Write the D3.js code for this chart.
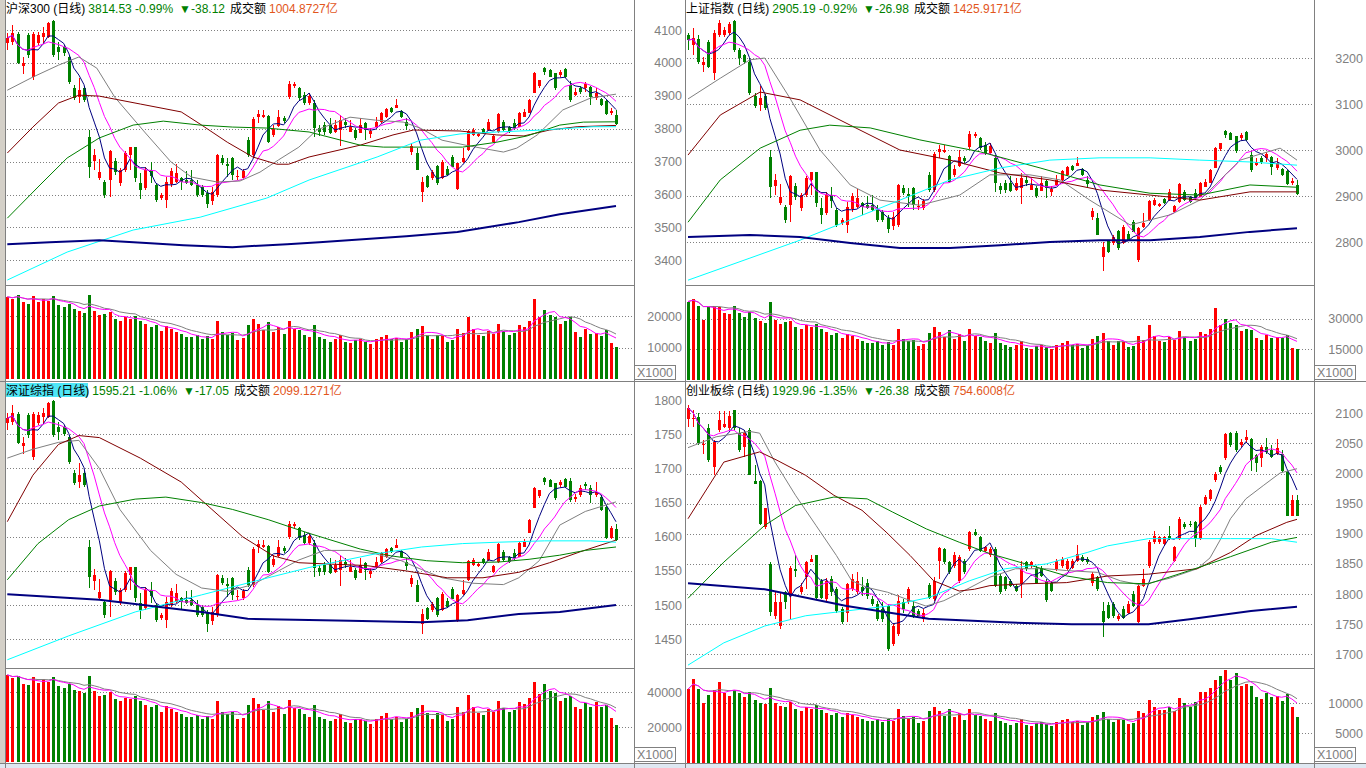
<!DOCTYPE html>
<html>
<head>
<meta charset="utf-8">
<script src="https://cdnjs.cloudflare.com/ajax/libs/d3/7.8.5/d3.min.js"></script>
<style>
  body { margin: 0; background: #fff; }
  svg { display: block; }
</style>
</head>
<body>
<svg id="chart" width="1366" height="768"></svg>
<script>
// ---- data: daily candles [open, high, low, close] ----
var hs300K = [
[4060,4091,4039,4076],[4063,4115,4054,4091],[4088,4094,3996,4000],[3990,4018,3966,4000],[4085,4091,4015,4024],
[3957,4094,3948,4088],[4060,4094,4054,4085],[4079,4109,4060,4091],[4079,4124,4076,4121],[4127,4130,4018,4024],
[4048,4063,4009,4033],[4048,4054,4021,4030],[4018,4024,3936,3942],[3924,3933,3887,3893],[3896,3954,3878,3917],
[3924,3930,3881,3887],[3775,3796,3650,3683],[3702,3738,3674,3720],[3650,3708,3644,3668],[3638,3644,3589,3598],
[3644,3735,3592,3732],[3702,3711,3659,3668],[3635,3680,3626,3674],[3674,3732,3668,3726],[3720,3744,3674,3744],
[3744,3744,3638,3650],[3635,3665,3586,3613],[3620,3683,3613,3674],[3674,3699,3635,3656],[3629,3635,3577,3583],
[3589,3604,3583,3598],[3583,3653,3559,3638],[3632,3680,3623,3671],[3638,3692,3635,3665],[3650,3653,3613,3638],
[3644,3671,3632,3635],[3644,3674,3626,3629],[3629,3644,3592,3598],[3623,3629,3592,3598],[3604,3613,3559,3571],
[3580,3623,3568,3607],[3598,3723,3592,3720],[3711,3720,3689,3696],[3692,3711,3653,3686],[3711,3714,3644,3659],
[3653,3674,3644,3656],[3650,3677,3644,3671],[3765,3775,3714,3720],[3720,3835,3714,3829],[3835,3857,3817,3844],
[3835,3857,3832,3841],[3838,3841,3756,3759],[3781,3811,3775,3799],[3808,3857,3805,3835],[3832,3838,3817,3823],
[3896,3945,3890,3936],[3930,3942,3924,3936],[3924,3927,3887,3893],[3902,3911,3872,3878],[3878,3908,3872,3899],
[3878,3887,3775,3802],[3802,3811,3778,3790],[3811,3820,3781,3790],[3811,3832,3784,3787],[3790,3826,3787,3811],
[3796,3841,3747,3826],[3820,3832,3802,3811],[3790,3826,3790,3805],[3796,3802,3765,3772],[3787,3832,3787,3811],
[3817,3820,3765,3796],[3784,3802,3772,3793],[3805,3835,3802,3820],[3820,3851,3817,3848],[3835,3863,3832,3860],
[3863,3866,3848,3851],[3863,3890,3863,3872],[3854,3857,3832,3835],[3820,3832,3796,3808],[3729,3756,3720,3747],
[3726,3741,3674,3674],[3607,3653,3577,3638],[3656,3659,3620,3623],[3650,3674,3644,3668],[3686,3689,3629,3635],
[3650,3705,3647,3699],[3677,3686,3656,3659],[3714,3720,3683,3683],[3616,3696,3613,3696],[3699,3741,3696,3711],
[3735,3796,3732,3793],[3781,3802,3778,3796],[3778,3787,3775,3784],[3799,3802,3784,3787],[3796,3829,3793,3820],
[3759,3781,3756,3778],[3790,3848,3787,3844],[3820,3826,3793,3796],[3805,3808,3787,3790],[3817,3829,3796,3802],
[3805,3851,3805,3848],[3835,3860,3835,3851],[3848,3890,3848,3887],[3908,3972,3908,3969],[3930,3948,3924,3948],
[3984,3987,3963,3972],[3978,3981,3957,3957],[3969,3969,3917,3924],[3963,3978,3957,3972],[3981,3984,3954,3957],
[3933,3945,3881,3887],[3902,3924,3899,3911],[3924,3930,3905,3911],[3924,3942,3911,3936],[3927,3930,3872,3896],
[3893,3924,3887,3908],[3890,3893,3869,3872],[3884,3887,3841,3844],[3848,3863,3841,3852.65],[3841,3857,3812,3814.53]
];
var shK = [
[3250,3254,3217,3239],[3228,3265,3206,3243],[3241,3250,3187,3191],[3185,3202,3169,3191],[3235,3239,3178,3180],
[3167,3261,3152,3254],[3250,3283,3246,3276],[3250,3267,3246,3261],[3254,3278,3250,3274],[3280,3283,3213,3217],
[3217,3222,3185,3200],[3206,3209,3187,3191],[3191,3200,3120,3124],[3117,3124,3091,3096],[3098,3139,3085,3113],
[3117,3122,3087,3091],[2985,3000,2896,2920],[2922,2948,2902,2935],[2885,2926,2880,2898],[2876,2880,2841,2848],
[2880,2946,2843,2943],[2922,2928,2891,2898],[2874,2906,2867,2902],[2902,2943,2898,2939],[2935,2952,2902,2952],
[2952,2952,2876,2885],[2874,2896,2839,2859],[2863,2909,2859,2902],[2902,2920,2874,2889],[2870,2874,2833,2837],
[2841,2852,2837,2848],[2837,2887,2820,2876],[2872,2906,2865,2900],[2876,2915,2874,2896],[2885,2887,2859,2876],
[2880,2900,2872,2874],[2880,2902,2867,2870],[2870,2880,2843,2848],[2865,2870,2843,2848],[2852,2859,2820,2828],
[2835,2865,2826,2854],[2837,2926,2833,2924],[2917,2924,2902,2906],[2904,2917,2876,2900],[2917,2920,2870,2880],
[2876,2891,2870,2878],[2874,2893,2870,2889],[2946,2952,2909,2913],[2913,2996,2909,2991],[2996,3011,2983,3002],
[2996,3011,2993,3000],[2987,2989,2928,2930],[2946,2967,2941,2959],[2965,3000,2963,2985],[2983,2987,2972,2976],
[3006,3041,3002,3035],[3030,3039,3026,3035],[3026,3028,3000,3004],[3011,3017,2989,2993],[2993,3015,2989,3009],
[2983,2989,2909,2928],[2922,2928,2904,2913],[2928,2935,2906,2913],[2928,2943,2909,2911],[2913,2939,2911,2928],
[2917,2950,2883,2939],[2935,2943,2922,2928],[2913,2939,2913,2924],[2917,2922,2896,2900],[2911,2943,2911,2928],
[2933,2935,2896,2917],[2909,2922,2900,2915],[2924,2946,2922,2935],[2935,2956,2933,2954],[2946,2965,2943,2963],
[2965,2967,2954,2956],[2965,2985,2965,2972],[2959,2961,2943,2946],[2935,2943,2917,2926],[2854,2874,2848,2867],
[2852,2863,2815,2815],[2767,2800,2736,2789],[2802,2804,2776,2778],[2798,2815,2793,2811],[2824,2826,2783,2787],
[2798,2837,2796,2833],[2817,2824,2802,2804],[2843,2848,2822,2822],[2760,2833,2757,2830],[2833,2863,2830,2841],
[2848,2891,2846,2889],[2880,2896,2878,2891],[2878,2885,2876,2883],[2893,2896,2883,2885],[2891,2915,2889,2909],
[2865,2880,2863,2878],[2887,2928,2885,2926],[2909,2913,2889,2891],[2898,2900,2885,2887],[2906,2915,2891,2896],
[2898,2930,2898,2928],[2920,2937,2920,2930],[2928,2959,2928,2956],[2961,3006,2961,3004],[3002,3015,2998,3015],
[3041,3043,3026,3033],[3037,3039,3022,3022],[3030,3030,2993,2998],[3026,3037,3022,3033],[3039,3041,3020,3022],
[2989,2998,2952,2956],[2967,2983,2965,2974],[2983,2987,2970,2974],[2983,2996,2974,2991],[2985,2987,2946,2963],
[2961,2983,2956,2972],[2959,2961,2943,2946],[2954,2956,2924,2926],[2928,2939,2924,2932.17],[2924,2935,2902,2905.19]
];
var szK = [
[1766,1781,1756,1773],[1768,1792,1763,1781],[1779,1782,1735,1737],[1732,1746,1721,1737],[1778,1781,1744,1749],
[1716,1782,1712,1779],[1766,1782,1763,1778],[1775,1789,1766,1781],[1775,1797,1773,1795],[1798,1800,1746,1749],
[1760,1768,1741,1753],[1760,1763,1747,1751],[1746,1749,1706,1709],[1693,1698,1676,1679],[1680,1708,1671,1690],
[1693,1696,1673,1676],[1585,1595,1525,1541],[1535,1553,1522,1544],[1510,1538,1508,1519],[1505,1508,1481,1486],
[1508,1551,1483,1550],[1535,1540,1515,1519],[1503,1525,1500,1522],[1522,1550,1519,1547],[1544,1556,1522,1556],
[1556,1556,1505,1510],[1503,1518,1480,1493],[1496,1527,1493,1522],[1522,1534,1503,1513],[1500,1503,1475,1478],
[1481,1489,1478,1486],[1478,1512,1467,1505],[1502,1525,1497,1521],[1505,1531,1503,1518],[1510,1512,1493,1505],
[1508,1521,1502,1503],[1508,1522,1499,1500],[1500,1508,1483,1486],[1497,1500,1483,1486],[1489,1493,1460,1472],
[1477,1497,1471,1490],[1486,1546,1483,1544],[1540,1544,1529,1532],[1531,1540,1512,1528],[1540,1541,1508,1515],
[1512,1522,1508,1513],[1510,1524,1508,1521],[1551,1556,1527,1529],[1529,1585,1527,1582],[1585,1595,1576,1589],
[1585,1595,1584,1588],[1587,1588,1547,1549],[1559,1573,1556,1567],[1572,1595,1570,1585],[1584,1587,1576,1579],
[1600,1623,1597,1619],[1616,1622,1613,1619],[1613,1614,1595,1598],[1603,1607,1588,1591],[1591,1605,1588,1601],
[1591,1595,1541,1554],[1554,1559,1543,1549],[1559,1563,1544,1549],[1559,1569,1546,1547],[1549,1566,1547,1559],
[1551,1573,1528,1566],[1563,1569,1554,1559],[1549,1566,1549,1556],[1551,1554,1537,1540],[1547,1569,1547,1559],
[1562,1563,1537,1551],[1546,1554,1540,1550],[1556,1570,1554,1563],[1563,1578,1562,1576],[1570,1584,1569,1582],
[1584,1585,1576,1578],[1584,1597,1584,1588],[1579,1581,1569,1570],[1563,1569,1551,1557],[1531,1544,1527,1540],
[1529,1537,1505,1505],[1472,1494,1458,1487],[1496,1497,1478,1480],[1493,1505,1490,1502],[1510,1512,1483,1486],
[1493,1519,1491,1516],[1506,1510,1496,1497],[1524,1527,1509,1509],[1477,1516,1475,1515],[1516,1537,1515,1522],
[1537,1566,1535,1565],[1559,1569,1557,1566],[1557,1562,1556,1560],[1567,1569,1560,1562],[1566,1582,1565,1578],
[1549,1559,1547,1557],[1563,1591,1562,1589],[1578,1581,1565,1566],[1570,1572,1562,1563],[1576,1582,1566,1569],
[1570,1592,1570,1591],[1585,1597,1585,1592],[1606,1626,1606,1625],[1642,1673,1642,1671],[1660,1668,1657,1668],
[1686,1687,1676,1680],[1683,1684,1673,1673],[1679,1679,1654,1657],[1676,1683,1673,1680],[1684,1686,1671,1673],
[1682,1686,1651,1654],[1655,1663,1651,1658],[1661,1676,1658,1671],[1677,1680,1668,1674],[1671,1676,1649,1661],
[1661,1680,1658,1665],[1658,1661,1638,1639],[1644,1646,1597,1598],[1598,1616,1597,1612.26],[1612,1619,1594,1595.21]
];
var cybK = [
[2090,2114,2078,2109],[2090,2105,2078,2093],[2094,2100,2047,2050],[2047,2055,2033,2049],[2075,2083,2019,2022],
[2011,2055,1997,2053],[2072,2104,2069,2089],[2078,2103,2075,2082],[2075,2103,2072,2096],[2105,2106,2072,2076],
[2067,2075,2036,2039],[2044,2072,2028,2067],[2072,2075,1997,1998],[1987,2014,1983,1983],[1987,1989,1915,1916],
[1911,1943,1908,1942],[1850,1853,1764,1770],[1764,1803,1758,1787],[1747,1803,1742,1787],[1803,1805,1775,1786],
[1797,1846,1758,1844],[1842,1864,1828,1839],[1803,1819,1800,1811],[1828,1855,1808,1853],[1854,1864,1853,1859],
[1865,1865,1792,1793],[1822,1825,1792,1794],[1792,1826,1789,1822],[1825,1830,1797,1803],[1808,1811,1769,1772],
[1775,1778,1750,1753],[1769,1819,1753,1817],[1808,1833,1805,1825],[1803,1836,1800,1822],[1811,1828,1797,1805],
[1819,1825,1792,1797],[1792,1797,1780,1783],[1783,1789,1755,1758],[1775,1786,1753,1758],[1780,1783,1705,1708],
[1717,1750,1714,1747],[1733,1798,1730,1789],[1786,1792,1769,1775],[1786,1811,1783,1808],[1780,1789,1761,1764],
[1772,1775,1763,1764],[1758,1775,1754,1769],[1815,1819,1792,1794],[1792,1828,1789,1822],[1855,1878,1825,1876],
[1874,1876,1850,1853],[1853,1855,1833,1836],[1847,1869,1844,1865],[1822,1864,1819,1861],[1855,1859,1833,1836],
[1875,1905,1872,1903],[1903,1908,1897,1898],[1894,1896,1869,1872],[1872,1880,1869,1878],[1865,1878,1861,1874],
[1875,1878,1811,1814],[1830,1833,1800,1803],[1828,1830,1805,1808],[1822,1825,1811,1814],[1814,1817,1803,1805],
[1817,1855,1794,1842],[1853,1855,1839,1842],[1847,1855,1844,1853],[1844,1847,1817,1819],[1844,1847,1828,1830],
[1822,1825,1786,1790],[1819,1822,1803,1805],[1842,1858,1839,1855],[1847,1861,1844,1858],[1842,1858,1839,1855],
[1844,1858,1842,1855],[1855,1882,1853,1867],[1861,1864,1853,1855],[1858,1861,1850,1853],[1819,1836,1814,1833],
[1828,1830,1805,1808],[1772,1786,1728,1753],[1781,1786,1758,1761],[1783,1786,1761,1764],[1758,1767,1755,1764],
[1775,1780,1758,1761],[1769,1789,1767,1783],[1800,1805,1778,1780],[1753,1817,1752,1814],[1814,1842,1811,1825],
[1847,1889,1844,1886],[1886,1905,1883,1897],[1886,1897,1883,1894],[1883,1897,1880,1894],[1897,1913,1889,1892],
[1855,1880,1853,1878],[1892,1928,1889,1925],[1916,1919,1908,1911],[1916,1922,1911,1914],[1919,1922,1878,1892],
[1892,1947,1890,1944],[1950,1964,1947,1961],[1958,1975,1955,1972],[1989,2003,1986,2000],[2011,2014,2000,2003],
[2025,2067,2022,2065],[2067,2069,2044,2047],[2068,2070,2036,2039],[2047,2058,2044,2052],[2055,2072,2053,2061],
[2058,2059,2004,2022],[2030,2033,2003,2017],[2025,2047,2011,2044],[2044,2059,2033,2036],[2039,2047,2025,2028],
[2033,2058,2030,2042],[2033,2039,2003,2005],[2003,2005,1930,1930],[1930,1965,1929,1956.34],[1956,1964,1929,1929.96]
];

// ---- data: volume (X1000) ----
var hs300Vol = [26100,25500,26800,24500,23900,26500,24500,25500,24800,26500,23500,22900,23900,22300,21600,21000,26800,21600,20300,20600,
21300,19000,18400,19700,19000,20000,18400,17400,16500,17100,15200,16800,15800,14800,14200,13200,13200,13900,12600,13500,
12600,18400,14800,13900,14500,12300,12900,17100,19000,17400,15500,18100,14800,16500,14200,18400,15800,15500,13900,13200,
17100,13200,12600,11900,12600,13900,11600,11300,12300,12600,11900,11000,12600,13200,13900,12600,12900,11600,12600,14800,
15800,16800,13900,12600,13900,13500,11900,12300,15800,14500,19700,15800,13900,13500,15200,14200,17400,15200,13900,14500,
17100,16500,18400,25500,19700,21900,20300,19700,17400,18400,19700,14800,13200,15800,14200,14500,13500,15500,11300,10300];
var shVol = [38400,39700,36300,29400,35800,36300,35800,33000,32300,36300,33000,31000,33500,30500,29000,28000,38000,29500,27500,28500,
29000,26000,25000,27000,26000,27500,25000,23500,22000,23000,20500,22500,21500,20000,19000,18000,18000,19000,17000,18500,
17000,25000,20000,19000,19500,16500,17500,23000,26000,23500,21000,24500,20000,22500,19000,25000,21500,21000,19000,18000,
23000,18000,17000,16000,17000,19000,15500,15000,16500,17000,16000,15000,17000,18000,19000,17000,17500,15500,17000,20000,
21500,23000,19000,17000,19000,18500,16000,16500,21500,19500,27000,21500,19000,18500,21000,19500,24000,21000,19000,20000,
23500,22500,25000,35000,27000,30000,28000,27000,24000,25000,24500,20600,19600,22000,20600,21000,20600,22000,15700,15200];
var szVol = [50000,48000,49500,45000,44000,49000,45500,47500,46000,49000,43500,42500,44500,41500,40500,39500,49500,40500,38000,38500,
40000,36000,35000,37000,36000,38000,35000,33000,31500,32500,29000,32000,30500,28500,27500,26000,26000,27000,25000,26500,
25000,35000,29000,27500,28500,24500,25500,33000,36500,33500,30000,35000,29000,32000,27500,35500,31000,30500,27500,26000,
33000,26000,25000,23500,25000,27500,23000,22500,24500,25000,23500,22000,25000,26500,28000,25000,26000,23000,25000,29000,
31000,33000,28000,25000,28000,27000,23500,24500,31500,29000,38500,31500,28000,27000,30500,28500,35000,31000,28500,30000,
34500,33500,37000,46000,39000,45000,41000,39500,35000,37000,38000,31500,30400,33900,31600,34500,31500,32700,25300,21300];
var cybVol = [12300,14000,12300,10000,11300,12200,13500,11700,11200,12200,11700,11000,11800,10500,10000,9800,12500,10000,9500,9300,
10200,9000,8600,9400,9000,9600,8800,8300,8000,8400,7600,8400,8000,7600,7300,7000,7000,7300,6800,7400,
7000,9000,7800,7500,7600,6700,7000,8600,9400,8600,7900,9000,7700,8300,7200,9000,8000,7900,7300,7000,
8400,7000,6700,6400,6700,7300,6300,6200,6600,6800,6500,6200,6800,7100,7400,6800,7000,6400,6800,7600,
8000,8500,7400,6800,7400,7200,6500,6700,8600,8400,10500,9400,8800,8900,9300,8600,10800,10000,9400,10200,
11800,11800,12500,13800,14500,15500,13800,15000,12800,13200,12800,11000,10600,11700,11000,11200,10300,11500,9300,7700];

// ---- data: longer moving averages, [day index, value] ----
var hs300Ma20 = [[0,3917],[5,3957],[10,3993],[14,4018],[17.5,3984],[21,3896],[27,3787],[32,3699],[36,3653],[41,3638],[45.5,3641],[49.4,3668],[53,3705],[57,3744],[60.5,3796],[67,3835],[72,3826],[77.4,3820],[80.7,3802],[85,3765],[90.5,3747],[97,3729],[99.6,3741],[103.6,3781],[108.6,3857],[114,3893],[119,3905]];
var hs300Ma60 = [[0,3726],[5,3805],[10,3878],[14,3902],[18,3899],[26,3875],[34,3851],[38,3811],[43,3759],[48,3714],[52.7,3692],[55,3692],[59,3714],[69,3750],[75.4,3781],[79.4,3796],[88.5,3793],[95.7,3781],[101,3778],[106,3796],[111.4,3806],[119,3810]];
var hs300Ma120 = [[0,3528],[6.4,3629],[11.7,3711],[18,3772],[24.6,3811],[30.5,3823],[37.7,3811],[44,3805],[50.7,3802],[59,3790],[69,3750],[73.5,3744],[82,3744],[89,3744],[95.7,3759],[101.6,3778],[108,3811],[112.6,3820],[119,3821]];
var hs300Ma250 = [[0,3340],[11.7,3425],[24.6,3492],[37.7,3531],[50.7,3589],[59,3644],[72.3,3714],[80.7,3765],[88.5,3784],[95.7,3790],[104.7,3796],[114.5,3806],[119,3806]];
var hs300Ma500 = [[0,3449],[8.3,3455],[18,3461],[28,3452],[34.4,3446],[44,3440],[54.7,3449],[61,3455],[78,3473],[88,3486],[100,3516],[108,3540],[119,3565]];

var shMa20 = [[0,3111],[6.3,3156],[12.1,3196],[15,3200],[19.9,3113],[25.8,3000],[31.7,2924],[37.5,2891],[45.3,2880],[53.1,2902],[59,2946],[66.8,2946],[72.7,2935],[78.5,2891],[86.4,2837],[94.2,2859],[100,2891],[107.9,2978],[115.7,3004],[119,2978]];
var shMa60 = [[0,2989],[6.3,3076],[14.1,3126],[21.9,3109],[31.7,3054],[41.4,3000],[51.2,2978],[61,2950],[70.7,2935],[80.5,2913],[90.3,2902],[100,2891],[109.8,2909],[119,2909]];
var shMa120 = [[0,2843],[6.3,2935],[14.1,3004],[21.9,3043],[27.7,3054],[35.6,3048],[45.3,3022],[57.1,2996],[68.8,2961],[80.5,2924],[90.3,2906],[100,2902],[109.8,2924],[119,2919]];
var shMa250 = [[0,2717],[12.1,2765],[21.9,2804],[31.7,2848],[41.4,2891],[51.2,2935],[61,2961],[70.7,2978],[80.5,2983],[90.3,2983],[100,2978],[109.8,2974],[119,2967]];
var shMa500 = [[0,2811],[12.1,2815],[21.9,2811],[31.7,2798],[41.4,2787],[51.2,2787],[61,2793],[70.7,2800],[80.5,2804],[90.3,2804],[100,2811],[109.8,2822],[119,2830]];

var szMa20 = [[0,1715],[5,1728],[10,1738],[14,1741],[18,1700],[22,1640],[28,1580],[33,1545],[38,1525],[43,1520],[48,1530],[53,1550],[57,1566],[62,1580],[67,1580],[72,1575],[77,1565],[81,1552],[85,1540],[91,1532],[97,1530],[100,1540],[104,1565],[108,1617],[113,1637],[119,1651]];
var szMa60 = [[0,1622],[5,1690],[10,1735],[14,1748],[18,1745],[26,1715],[34,1680],[40,1640],[46,1600],[52,1572],[57,1562],[63,1560],[70,1558],[78,1550],[86,1540],[93,1540],[100,1548],[106,1562],[112,1578],[119,1595]];
var szMa120 = [[0,1537],[6,1590],[12,1625],[18,1645],[25,1655],[31,1658],[38,1650],[44,1640],[51,1625],[59,1605],[69,1582],[75,1572],[82,1565],[89,1562],[96,1563],[102,1567],[108,1573],[113,1580],[119,1585]];
var szMa250 = [[0,1420],[12,1455],[25,1490],[38,1515],[51,1540],[59,1555],[72,1575],[81,1585],[89,1590],[96,1592],[105,1594],[114,1594],[119,1592]];
var szMa500 = [[0,1516],[18,1508],[38,1490],[47,1480],[67,1477],[81,1475],[90,1478],[100,1487],[108,1490],[119,1500]];

var cybMa20 = [[0,2043],[5.5,2061],[12,2070],[14,2067],[17,2019],[21,1964],[25,1914],[29,1864],[32,1822],[35,1811],[39,1803],[43.5,1789],[46.5,1780],[50,1789],[54.5,1808],[59,1828],[64,1842],[70,1842],[74,1839],[80,1836],[84.5,1822],[88.5,1815],[94,1826],[99.5,1842],[102,1860],[104,1890],[106,1925],[109,1958],[112.4,1980],[115.7,2001],[119,2008]];
var cybMa60 = [[0,1925],[7,2019],[14,2036],[17.4,2022],[23,1997],[28.5,1964],[34,1939],[38.7,1903],[43.4,1864],[48,1822],[53,1805],[56,1808],[59,1814],[66,1817],[74,1819],[82,1830],[90,1833],[99.5,1842],[106,1869],[111,1897],[117,1919],[119,1924]];
var cybMa120 = [[0,1793],[7,1853],[15,1914],[21,1947],[28.5,1961],[35,1958],[40,1936],[46.6,1908],[53,1886],[59,1867],[66,1850],[74,1830],[82,1819],[90,1817],[98,1839],[106,1862],[114,1886],[119,1894]];
var cybMa250 = [[0,1682],[7,1719],[15,1747],[23,1764],[31,1772],[39,1780],[47,1794],[55,1822],[62,1842],[70,1850],[78,1869],[82,1880],[90,1892],[98,1892],[106,1892],[114,1892],[119,1886]];
var cybMa500 = [[0,1818],[15,1808],[31,1780],[47,1759],[62,1753],[75,1750],[90,1750],[98,1758],[110,1772],[119,1779]];

// ---- data: axis ticks ----
var hs300Ticks = [3400,3500,3600,3700,3800,3900,4000,4100];
var shTicks = [2800,2900,3000,3100,3200];
var szTicks = [1450,1500,1550,1600,1650,1700,1750,1800];
var szGrid = [1450,1500,1550,1600,1650,1700,1750];
var cybTicks = [1700,1750,1800,1850,1900,1950,2000,2050,2100];
var hs300VolTicks = [10000,20000];
var shVolTicks = [15000,30000];
var szVolTicks = [20000,40000];
var cybVolTicks = [5000,10000];

// ---- header quotes ----
var titles = ['沪深300', '上证指数', '深证综指', '创业板综'];
var lastQuotes = ['3814.53 -0.99%', '2905.19 -0.92%', '1595.21 -1.06%', '1929.96 -1.35%'];
var changes = ['-38.12', '-26.98', '-17.05', '-26.38'];
var turnovers = ['1004.8727亿', '1425.9171亿', '2099.1271亿', '754.6008亿'];

// ---- drawing ----
var FONT = '"Liberation Sans", "DejaVu Sans", "Noto Sans CJK SC", sans-serif';
var UP = '#ff0000', DOWN = '#008000', GRID = '#808080';
var svg = d3.select('#chart');

svg.append('rect').attr('width', 1366).attr('height', 768).attr('fill', '#fff');

function movingAvg(values, n) {
    return values.map(function (v, i) {
        return [i, d3.mean(values.slice(Math.max(0, i - n + 1), i + 1))];
    });
}

var panels = [
    {k: hs300K, vol: hs300Vol, ma: [hs300Ma20, hs300Ma60, hs300Ma120, hs300Ma250, hs300Ma500],
     ticks: hs300Ticks, grid: hs300Ticks, vTicks: hs300VolTicks,
     xr: [7.3, 616], px: [6, 634], axisX: 682, top: 17, split: 285, bottom: 381,
     yDom: [3400, 4100], yRng: [260.3, 30], vDom: [0, 20000], vRng: [379, 316], hx: 6, hy: 13},
    {k: shK, vol: shVol, ma: [shMa20, shMa60, shMa120, shMa250, shMa500],
     ticks: shTicks, grid: shTicks, vTicks: shVolTicks,
     xr: [688, 1297], px: [686, 1314], axisX: 1363, top: 17, split: 285, bottom: 381,
     yDom: [2800, 3200], yRng: [242, 58], vDom: [0, 30000], vRng: [380, 318.7], hx: 686, hy: 13},
    {k: szK, vol: szVol, ma: [szMa20, szMa60, szMa120, szMa250, szMa500],
     ticks: szTicks, grid: szGrid, vTicks: szVolTicks,
     xr: [7.3, 616], px: [6, 634], axisX: 682, top: 398, split: 668, bottom: 763,
     yDom: [1450, 1800], yRng: [639.3, 400], vDom: [0, 40000], vRng: [762.3, 692.3], hx: 6, hy: 395, hilite: true},
    {k: cybK, vol: cybVol, ma: [cybMa20, cybMa60, cybMa120, cybMa250, cybMa500],
     ticks: cybTicks, grid: cybTicks, vTicks: cybVolTicks,
     xr: [688, 1297], px: [686, 1314], axisX: 1363, top: 398, split: 668, bottom: 763,
     yDom: [1700, 2100], yRng: [654.3, 413.3], vDom: [0, 10000], vRng: [763, 703], hx: 686, hy: 395}
];

// MA colours: 5, 10, 20, 60, 120, 250, 500
var maColors = ['#000080', '#ff00ff', '#808080', '#800000', '#008000', '#00ffff', '#000080'];

panels.forEach(function (p, pi) {
    var g = svg.append('g'),
    x = d3.scaleLinear().domain([0, p.k.length - 1]).range(p.xr),
    y = d3.scaleLinear().domain(p.yDom).range(p.yRng),
    yv = d3.scaleLinear().domain(p.vDom).range(p.vRng),
    colorOf = function (d) { return d[3] >= d[0] ? UP : DOWN; };

    var clipP = 'clipP' + pi, clipV = 'clipV' + pi;
    var defs = g.append('defs');
    defs.append('clipPath').attr('id', clipP).append('rect')
        .attr('x', p.px[0]).attr('y', p.top).attr('width', p.px[1] - p.px[0]).attr('height', p.split - p.top);
    defs.append('clipPath').attr('id', clipV).append('rect')
        .attr('x', p.px[0]).attr('y', p.split + 1).attr('width', p.px[1] - p.px[0]).attr('height', p.bottom - p.split - 1);

    // dotted grid
    g.append('g').attr('shape-rendering', 'crispEdges').selectAll('line')
        .data(p.grid.map(function (v) { return y(v); }).concat(p.vTicks.map(function (v) { return yv(v); })))
        .join('line')
        .attr('x1', p.px[0] + 1).attr('x2', p.px[1] - 1)
        .attr('y1', function (d) { return Math.round(d) + 0.5; })
        .attr('y2', function (d) { return Math.round(d) + 0.5; })
        .attr('stroke', GRID).attr('stroke-dasharray', '1,2');

    // axes (labels only)
    var ax = g.append('g').attr('transform', 'translate(' + p.axisX + ',0)')
        .call(d3.axisLeft(y).tickValues(p.ticks).tickSize(0).tickPadding(0).tickFormat(d3.format('d')));
    var axv = g.append('g').attr('transform', 'translate(' + p.axisX + ',0)')
        .call(d3.axisLeft(yv).tickValues(p.vTicks).tickSize(0).tickPadding(0).tickFormat(d3.format('d')));
    [ax, axv].forEach(function (a) {
        a.select('.domain').remove();
        a.attr('font-family', FONT).attr('font-size', 12.5).attr('color', '#808080');
    });

    // candles
    var cg = g.append('g').attr('clip-path', 'url(#' + clipP + ')').attr('shape-rendering', 'crispEdges');
    cg.selectAll('line').data(p.k).join('line')
        .attr('x1', function (d, i) { return Math.round(x(i)) + 0.5; })
        .attr('x2', function (d, i) { return Math.round(x(i)) + 0.5; })
        .attr('y1', function (d) { return y(d[1]); })
        .attr('y2', function (d) { return y(d[2]); })
        .attr('stroke', colorOf);
    cg.selectAll('rect').data(p.k).join('rect')
        .attr('x', function (d, i) { return Math.round(x(i)) - 1; })
        .attr('width', 3)
        .attr('y', function (d) { return y(Math.max(d[0], d[3])); })
        .attr('height', function (d) { return Math.max(1, Math.abs(y(d[0]) - y(d[3]))); })
        .attr('fill', colorOf);

    // moving averages
    var closes = p.k.map(function (d) { return d[3]; });
    var lines = [movingAvg(closes, 5), movingAvg(closes, 10)].concat(p.ma);
    var line = d3.line().x(function (d) { return x(d[0]); }).y(function (d) { return y(d[1]); });
    var lg = g.append('g').attr('clip-path', 'url(#' + clipP + ')').attr('fill', 'none');
    lines.forEach(function (l, li) {
        lg.append('path').attr('d', line(l))
            .attr('stroke', maColors[li])
            .attr('stroke-width', li === 6 ? 2 : 1);
    });

    // volume
    var vg = g.append('g').attr('clip-path', 'url(#' + clipV + ')');
    vg.append('g').attr('shape-rendering', 'crispEdges').selectAll('rect').data(p.vol).join('rect')
        .attr('x', function (d, i) { return Math.round(x(i)) - 1; })
        .attr('width', 3)
        .attr('y', function (d) { return yv(d); })
        .attr('height', function (d) { return yv(0) - yv(d); })
        .attr('fill', function (d, i) { return colorOf(p.k[i]); });
    var vline = d3.line().x(function (d) { return x(d[0]); }).y(function (d) { return yv(d[1]); });
    vg.append('path').attr('d', vline(movingAvg(p.vol, 10))).attr('fill', 'none').attr('stroke', '#808080');
    vg.append('path').attr('d', vline(movingAvg(p.vol, 5))).attr('fill', 'none').attr('stroke', '#ff00ff');

    // X1000 box
    var bx = p.px[1] + 0.5, by = p.bottom - 15.5;
    g.append('rect').attr('x', bx).attr('y', by).attr('width', 41).attr('height', 14)
        .attr('fill', '#fff').attr('stroke', '#808080').attr('shape-rendering', 'crispEdges');
    g.append('text').attr('x', bx + 20.5).attr('y', by + 11.5).attr('text-anchor', 'middle')
        .attr('font-family', FONT).attr('font-size', 12.5).attr('fill', '#808080').text('X1000');

    // header
    if (p.hilite) {
        g.append('rect').attr('x', p.hx).attr('y', p.hy - 12).attr('width', 82).attr('height', 14).attr('fill', '#4fe6f6');
    }
    var t = g.append('text').attr('x', p.hx).attr('y', p.hy).attr('font-family', FONT).attr('font-size', 12);
    t.append('tspan').attr('fill', '#000').text(titles[pi] + ' (日线)');
    t.append('tspan').attr('dx', 3).attr('fill', '#008000').text(lastQuotes[pi]);
    t.append('tspan').attr('dx', 6).attr('fill', '#008000').text('▼' + changes[pi]);
    t.append('tspan').attr('dx', 5).attr('fill', '#000').text('成交额');
    t.append('tspan').attr('dx', 3).attr('fill', '#e2561c').text(turnovers[pi]);
});

// frame lines
svg.append('rect').attr('x', 0).attr('y', 0).attr('width', 5).attr('height', 768).attr('fill', '#d4d0c8');
svg.append('rect').attr('x', 0).attr('y', 764).attr('width', 1366).attr('height', 4).attr('fill', '#dfe8f2');
var frame = [
    [5.5, 0, 5.5, 768], [634.5, 0, 634.5, 768], [685.5, 0, 685.5, 768], [1314.5, 0, 1314.5, 768],
    [5, 285.5, 634, 285.5], [686, 285.5, 1314, 285.5],
    [0, 381.5, 1366, 381.5],
    [5, 668.5, 634, 668.5], [686, 668.5, 1314, 668.5],
    [0, 763.5, 1366, 763.5]
];
svg.append('g').attr('shape-rendering', 'crispEdges').selectAll('line').data(frame).join('line')
    .attr('x1', function (d) { return d[0]; }).attr('y1', function (d) { return d[1]; })
    .attr('x2', function (d) { return d[2]; }).attr('y2', function (d) { return d[3]; })
    .attr('stroke', '#808080');
</script>
</body>
</html>
